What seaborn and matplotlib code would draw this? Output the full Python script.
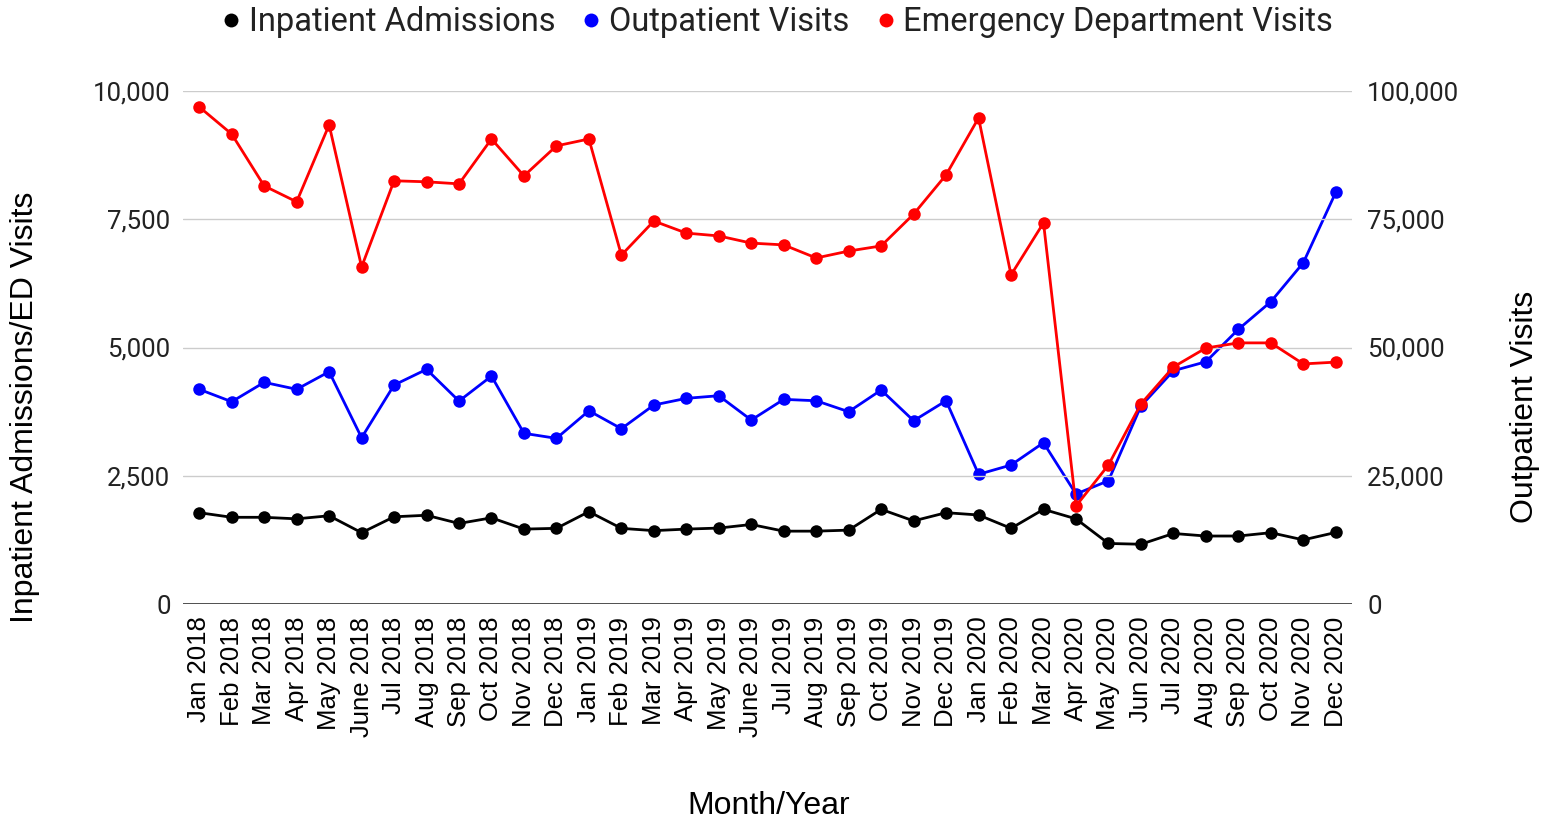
import pandas as pd
import numpy as np
import matplotlib
matplotlib.use("Agg")
import matplotlib.pyplot as plt
import seaborn as sns
from matplotlib.lines import Line2D
from matplotlib.ticker import FuncFormatter

# ------------------------------------------------------------
# data
# ------------------------------------------------------------
months = ['Jan 2018', 'Feb 2018', 'Mar 2018', 'Apr 2018', 'May 2018', 'June 2018',
          'Jul 2018', 'Aug 2018', 'Sep 2018', 'Oct 2018', 'Nov 2018', 'Dec 2018',
          'Jan 2019', 'Feb 2019', 'Mar 2019', 'Apr 2019', 'May 2019', 'June 2019',
          'Jul 2019', 'Aug 2019', 'Sep 2019', 'Oct 2019', 'Nov 2019', 'Dec 2019',
          'Jan 2020', 'Feb 2020', 'Mar 2020', 'Apr 2020', 'May 2020', 'Jun 2020',
          'Jul 2020', 'Aug 2020', 'Sep 2020', 'Oct 2020', 'Nov 2020', 'Dec 2020']

inpatient = [1780, 1690, 1690, 1660, 1720, 1390, 1700, 1730, 1570, 1680, 1460, 1475,
             1800, 1475, 1430, 1460, 1480, 1550, 1420, 1420, 1440, 1845, 1620, 1780,
             1735, 1475, 1845, 1660, 1180, 1165, 1375, 1325, 1325, 1390, 1250, 1395]

outpatient = [41850, 39430, 43210, 41850, 45280, 32410, 42680, 45740, 39560, 44430, 33270, 32290,
              37670, 34170, 38790, 40090, 40600, 35860, 39890, 39620, 37480, 41710, 35720, 39620,
              25280, 27090, 31440, 21440, 24030, 38590, 45470, 47220, 53540, 58920, 66520, 80240]

emergency = [9690, 9160, 8150, 7840, 9340, 6570, 8250, 8230, 8190, 9065, 8345, 8930,
             9065, 6800, 7465, 7230, 7175, 7035, 7000, 6745, 6880, 6980, 7600, 8365,
             9475, 6415, 7430, 1910, 2710, 3900, 4620, 4990, 5090, 5090, 4680, 4715]

series_names = ['Inpatient Admissions', 'Outpatient Visits', 'Emergency Department Visits']
series_colors = ['#000000', '#0000ff', '#ff0000']

df = pd.DataFrame({'idx': np.arange(len(months)),
                   'inpatient': inpatient,
                   'outpatient': outpatient,
                   'emergency': emergency})

# ------------------------------------------------------------
# plot
# ------------------------------------------------------------
sns.set_style("white")
plt.rcParams['font.family'] = ['Roboto', 'DejaVu Sans']
arial = ['Liberation Sans', 'DejaVu Sans']

fig = plt.figure(figsize=(15.49, 8.23), dpi=100)
ax = fig.add_axes([183 / 1549, 1 - 604 / 823, (1352 - 183) / 1549, (604 - 91) / 823])
ax2 = ax.twinx()

line_kw = dict(marker='o', markersize=9, markeredgewidth=0, linewidth=2)
sns.lineplot(data=df, x='idx', y='outpatient', ax=ax2, color=series_colors[1], **line_kw)
sns.lineplot(data=df, x='idx', y='inpatient', ax=ax, color=series_colors[0], **line_kw)
sns.lineplot(data=df, x='idx', y='emergency', ax=ax, color=series_colors[2], **line_kw)

# left axis above the twin so red/black sit over blue
ax.set_zorder(ax2.get_zorder() + 1)
ax.patch.set_visible(False)

ax.set_xlim(-0.5, len(months) - 0.5)
ax.set_ylim(0, 10000)
ax2.set_ylim(0, 100000)
ax.set_yticks([0, 2500, 5000, 7500, 10000])
ax2.set_yticks([0, 25000, 50000, 75000, 100000])
comma = FuncFormatter(lambda v, p: f'{int(v):,}')
ax.yaxis.set_major_formatter(comma)
ax2.yaxis.set_major_formatter(comma)

ax.set_xticks(df['idx'])
ax.set_xticklabels(months, rotation=90)
ax.tick_params(axis='x', length=0, pad=9, labelsize=18.5, labelcolor='#000000')
for lbl in ax.get_xticklabels():
    lbl.set_family(arial)
ax.tick_params(axis='y', length=0, pad=9, labelsize=18.5, labelcolor='#222222')
ax2.tick_params(axis='y', length=0, pad=11, labelsize=18.5, labelcolor='#222222')

ax.grid(axis='y', color='#cccccc', linewidth=1)
ax2.grid(False)
for a in (ax, ax2):
    for s in ['top', 'left', 'right', 'bottom']:
        a.spines[s].set_visible(False)
ax.axhline(0, color='#333333', linewidth=1.2, zorder=1)

ax.set_xlabel('')
ax.set_ylabel('')
ax2.set_ylabel('')

label_font = dict(family=arial, fontsize=23, color='#000000')
fig.text(25 / 1549, 1 - 407 / 823, 'Inpatient Admissions/ED Visits', rotation=90,
         ha='center', va='center', **label_font)
fig.text(1525 / 1549, 1 - 407 / 823, 'Outpatient Visits', rotation=90,
         ha='center', va='center', **label_font)
fig.text(769 / 1549, 1 - 806 / 823, 'Month/Year', ha='center', va='center', **label_font)

handles = [Line2D([], [], marker='o', linestyle='none', color=c, markersize=10,
                  markeredgewidth=0) for c in series_colors]
fig.legend(handles, series_names, loc='center', bbox_to_anchor=(774 / 1549, 1 - 22 / 823),
           ncol=3, frameon=False, fontsize=23.5, handletextpad=0.05, columnspacing=0.6,
           labelcolor='#222222', handlelength=1.0)

fig.savefig('out.png', dpi=100)
